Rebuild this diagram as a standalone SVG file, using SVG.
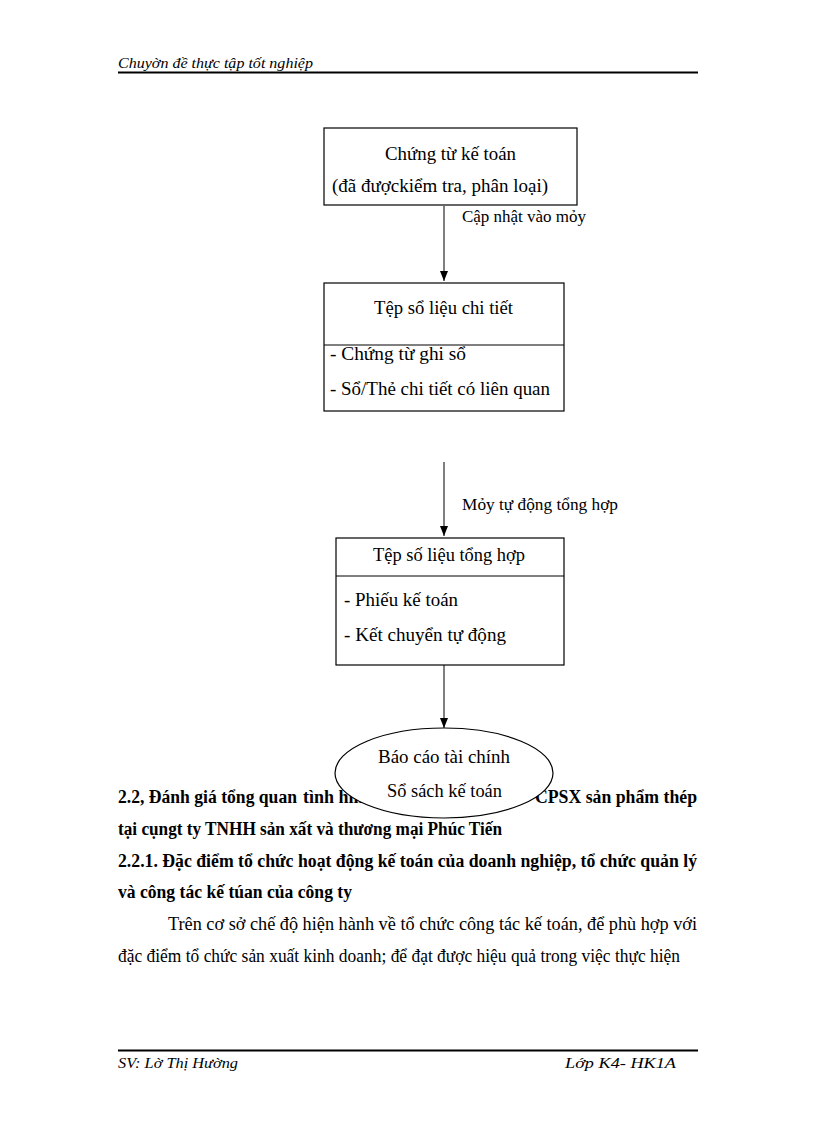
<svg xmlns="http://www.w3.org/2000/svg" width="816" height="1123" viewBox="0 0 816 1123">
<defs>
<marker id="ah" markerWidth="10" markerHeight="8" refX="10" refY="4" orient="auto" markerUnits="userSpaceOnUse" viewBox="0 0 10 8">
<path d="M0,0 L10,4 L0,8 Z" fill="#000"/>
</marker>
<style>
.t{font-family:"Liberation Serif","Times New Roman",serif;font-size:18px;fill:#000}
.s{font-family:"Liberation Serif","Times New Roman",serif;font-size:17px;fill:#000}
.i{font-family:"Liberation Serif","Times New Roman",serif;font-size:15.5px;font-style:italic;fill:#000}
.b{font-family:"Liberation Serif","Times New Roman",serif;font-size:18px;font-weight:bold;fill:#000}
.box{fill:#fff;stroke:#000;stroke-width:1.2}
.ln{stroke:#000;stroke-width:1}
</style>
</defs>
<rect width="816" height="1123" fill="#fff"/>
<g id="header">
<text class="i" x="118" y="68" textLength="195" lengthAdjust="spacingAndGlyphs">Chuyờn đề thực tập tốt nghiệp</text>
<line x1="118" y1="72.5" x2="698" y2="72.5" stroke="#000" stroke-width="2"/>
</g>
<g id="body">
<text class="b" x="118" y="803" textLength="179" lengthAdjust="spacingAndGlyphs">2.2, Đánh  giá tổng quan</text>
<text class="b" x="303" y="803">tình hình</text>
<text class="b" x="535" y="803" textLength="162" lengthAdjust="spacingAndGlyphs">CPSX sản phẩm  thép</text>
<text class="b" x="118" y="835" textLength="384" lengthAdjust="spacingAndGlyphs">tại cụngt ty TNHH  sản xất và thương mại Phúc Tiến</text>
<text class="b" x="118" y="867" textLength="579" lengthAdjust="spacingAndGlyphs">2.2.1. Đặc điểm tổ chức hoạt động kế toán của doanh nghiệp, tổ chức quản  lý</text>
<text class="b" x="118" y="898" textLength="234" lengthAdjust="spacingAndGlyphs">và công tác kế túan của công ty</text>
<text class="t" x="168" y="930" textLength="529" lengthAdjust="spacingAndGlyphs">Trên  cơ sở chế độ hiện hành  về tổ chức  công tác kế toán, để phù  hợp với</text>
<text class="t" x="118" y="962" textLength="562" lengthAdjust="spacingAndGlyphs">đặc điểm tổ chức sản xuất  kinh  doanh; để đạt được hiệu quả trong việc thực hiện</text>
</g>
<g id="connectors">
<line class="ln" x1="444" y1="206" x2="444" y2="281" marker-end="url(#ah)"/>
<text class="s" x="462" y="222" textLength="124" lengthAdjust="spacingAndGlyphs">Cập nhật vào  mỏy</text>
<line class="ln" x1="444" y1="462" x2="444" y2="536" marker-end="url(#ah)"/>
<text class="s" x="462" y="510" textLength="156" lengthAdjust="spacingAndGlyphs">Mỏy tự động tổng hợp</text>
<line class="ln" x1="444" y1="665" x2="444" y2="728" marker-end="url(#ah)"/>
</g>
<g id="node1">
<rect class="box" x="324" y="128" width="253" height="77"/>
<text class="t" x="385" y="160" textLength="131" lengthAdjust="spacingAndGlyphs">Chứng từ kế toán</text>
<text class="t" x="332" y="192" textLength="216" lengthAdjust="spacingAndGlyphs">(đã đượckiểm  tra, phân loại)</text>
</g>
<g id="node2">
<rect class="box" x="324" y="283" width="240" height="128"/>
<line class="ln" x1="324" y1="345" x2="564" y2="345"/>
<text class="t" x="374" y="314" textLength="139" lengthAdjust="spacingAndGlyphs">Tệp sổ liệu  chi tiết</text>
<text class="t" x="330" y="360" textLength="136" lengthAdjust="spacingAndGlyphs">- Chứng từ ghi sổ</text>
<text class="t" x="330" y="395" textLength="220" lengthAdjust="spacingAndGlyphs">- Sổ/Thẻ chi tiết có liên  quan</text>
</g>
<g id="node3">
<rect class="box" x="336" y="538" width="228" height="127"/>
<line class="ln" x1="336" y1="576" x2="564" y2="576"/>
<text class="t" x="373" y="561" textLength="152" lengthAdjust="spacingAndGlyphs">Tệp số liệu  tổng hợp</text>
<text class="t" x="344" y="606" textLength="114" lengthAdjust="spacingAndGlyphs">- Phiếu  kế toán</text>
<text class="t" x="344" y="641" textLength="162" lengthAdjust="spacingAndGlyphs">- Kết  chuyển tự động</text>
</g>
<g id="node4">
<ellipse cx="444" cy="773" rx="109" ry="45" fill="#fff" stroke="#000" stroke-width="1.2"/>
<text class="t" x="378" y="763" textLength="132" lengthAdjust="spacingAndGlyphs">Báo cáo tài  chính</text>
<text class="t" x="387" y="797" textLength="115" lengthAdjust="spacingAndGlyphs">Sổ sách kế toán</text>
</g>
<g id="footer">
<line x1="118" y1="1050.5" x2="698" y2="1050.5" stroke="#000" stroke-width="2"/>
<text class="i" x="118" y="1068" textLength="120" lengthAdjust="spacingAndGlyphs">SV: Lờ Thị Hường</text>
<text class="i" x="565" y="1068" textLength="111" lengthAdjust="spacingAndGlyphs">Lớp K4- HK1A</text>
</g>
</svg>
